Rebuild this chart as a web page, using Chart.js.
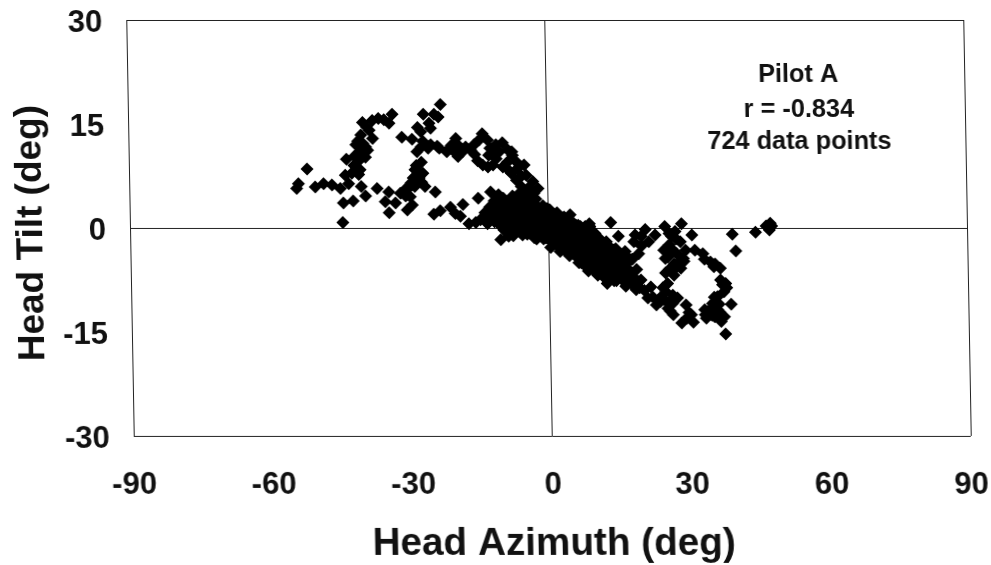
<!DOCTYPE html>
<html>
<head>
<meta charset="utf-8">
<style>
html,body{margin:0;padding:0;background:#fff;overflow:hidden;width:991px;height:565px}
#wrap{width:991px;height:565px;transform:skewX(1.03deg);transform-origin:0 228px}
canvas{display:block}
</style>
<script src="https://cdn.jsdelivr.net/npm/chart.js@4"></script>
</head>
<body>
<div id="wrap"><canvas id="c" width="991" height="565"></canvas></div>
<script>
const xTickValues = [-90,-60,-30,0,30,60,90];
const yTickValues = [-30,-15,0,15,30];
const xTitle = "Head Azimuth (deg)";
const yTitle = "Head Tilt (deg) ";
const noteLines = ["Pilot A","r = -0.834","724 data points"];

const upperArcX = [-23.2,-26.9,-24.6,-23.7,-25.7,-25.4,-28.2,-27.5,-31.6,-29.4,-27.1,-25.4,-23.6,-28.4,-27.5,-21.8,-20,-19.6,-20.7,-19.6,-17.9,-16.1,-14.3,-15,-13.2,-11.4,-8.9,-10.7,-7.9,-5.4,-6.8,-11.4,-13.2,-15.4,-14.3,-12.1,-10,-8.2,-7.1,-3.6,-2.5,-6.1,-6.5];
const upperArcY = [17.8,16.4,16.4,16,15.1,14.4,14.5,13.9,13.1,12.8,12.5,12,11.5,11,11.7,11.2,12.9,12,11.2,10.3,11.7,12,13.6,12.7,12.7,12,11.3,11,10.5,9.1,8.6,10,8.8,9.7,9.1,9.1,8.8,7.9,6.9,6.7,5.7,6,5];

const arcFillX = [-12,-9,-6,-8,-10,-13,-5,-7,-9,-4.5,-3.4,-12.7,-16,-24,-22,-26,-21,-18.6,-16.8];
const arcFillY = [11,9.5,7.5,11,12.3,10.5,7.6,9.5,8.5,5.8,5,11.5,10.6,11.8,11,11.5,11.9,11,11.2];

const leftLoopX = [-33.6,-35.4,-37.9,-40,-34.3,-38.6,-37.9,-40.4,-41.1,-39.4,-40.7,-39,-43.6,-41.1,-41.8,-40.7,-43.9,-42.5,-52.1,-54,-54.4,-50.4,-48.6,-46.8,-45,-43.2,-40.5,-37.1,-39.6,-42.3,-44.4,-44.6,-36.6,-39.2,-40,-41.8,-41.5,-40,-40.5,-39.5,-42,-41];
const leftLoopY = [16.4,15.6,15.5,15.2,15.1,14.1,12.9,13.4,12.5,11.7,11,11.2,9.9,9.8,9.1,8.4,7.6,7.9,8.5,6.4,5.7,5.9,6.4,6.2,5.7,6.4,6,5.7,4.6,3.9,3.6,0.8,15.8,14.6,12.2,10.4,12,11.8,10,10.2,9,7.7];

const midLoopX = [-34.6,-35.4,-34.6,-33.2,-32.1,-30.4,-30.7,-29.6,-30,-28.9,-27.5,-29.3,-28,-26.8,-24.6,-28.6,-27.2,-31,-25,-23.6,-21.4,-20.4,-19.3,-18.7,-17.5,-15.4,-12.7,-14.3,-10.7,-29,-28,-28.6,-29.8,-31,-27.5];
const midLoopY = [5.2,3.8,2.2,3.6,5,5.7,2.6,3.3,4.5,8.4,9.5,7.2,7.2,6,5.2,6.4,7.9,4.6,2,2.5,3,2.1,1.7,3.4,0.6,4.3,5.2,1.6,-1.7,6,8,9,6.5,5.6,6.6];

const denseCoreX = [-16,-15,-13,-12,-12,-11,-11,-11,-10,-10,-10,-10,-9,-9,-9,-9,-8,-8,-8,-8,-8,-7,-7,-7,-7,-6,-6,-6,-6,-5,-5,-5,-5,-4,-4,-4,-4,-3,-3,-3,-3,-2,-2,-2,-1,-1,-1,0,0,0,1,1,1,2,2,3,3,4,5,5,6,6,7,8,8,9,9,10,10,11,12,12,13,13,14,14,15,16];
const denseCoreY = [0.8,1.2,1.5,2.5,0.9,3.5,1.8,0.5,4.3,2.8,1.2,-0.3,3.6,2.2,0.8,-0.8,4.6,3,1.6,0.2,-1.1,3.8,2.4,1,-0.4,4.1,2.8,1.4,0,3.3,1.9,0.5,-0.9,3.9,2.7,1.2,-0.4,3.1,1.8,0.6,-1,2.6,1.1,-0.3,1.9,0.4,-1.4,1.3,-0.2,-1.5,0.6,-0.9,-2,0.2,-1.3,-0.9,-2.3,-1.4,-1.9,-3,-2.5,-3.6,-3.2,-2.9,-5,-3.8,-5.4,-3.3,-5,-5.8,-4.9,-6.6,-5.6,-7,-4.4,-6,-5.4,-6.7];

const coreFillX = [-14,-13,-13.5,-12.5,-12,-11,-9.5,-9.5,-9.5,-6.5,-6.5,-6.5,-6.5,-3.5,-3.5,-3.5,-3.5,-3.5,-2.5,-2.5,-2.5,-2.5,-1.5,-1.5,-1.5,-1.5,-0.5,-0.5,-0.5,-0.5,-0.5,0.5,0.5,0.5,0.5,0.5,1.5,1.5,1.5,1.5,1.5,2.5,2.5,2.5,2.5,2.5];
const coreFillY = [2.2,3,0.6,1.5,3.9,4.8,3.5,1.5,0.5,3.4,2,0.8,-0.6,3.6,2.4,1,-0.2,-1.4,2.9,1.5,0.2,-1.2,2.4,0.9,-0.8,-1.6,2.8,1.6,0.6,-0.6,-1.6,2,1,0,-1.2,-2.2,1.4,0.4,-0.5,-1.7,-2.6,1.2,0,-1,-2,-3];

const slopeFillX = [3.5,3.5,3.5,3.5,3.5,4.5,4.5,4.5,4.5,4.5,5.5,5.5,5.5,5.5,5.5,6.5,6.5,6.5,6.5,6.5,6.5,7.5,7.5,7.5,7.5,7.5,7.5,8.5,8.5,8.5,8.5,8.5,8.5,9.5,9.5,9.5,9.5,9.5,9.5,10.5,10.5,10.5,10.5,10.5,11.5,11.5,11.5,11.5,11.5,12.5,12.5,12.5,12.5,12.5,13.5,13.5,13.5,13.5,13.5,14.5,14.5,14.5,14.5,15.5,15.5,15.5,15.5,16.5,16.5,16.5];
const slopeFillY = [0.7,-0.4,-1.6,-2.7,-3.4,1,-0.2,-1.1,-2.3,-3.5,0.4,-1.2,-2.3,-3.4,-4.2,0.2,-1,-2,-3,-4.2,-5,-0.4,-1.8,-2.6,-3.8,-4.6,-5.6,0.2,-1.2,-2.2,-3.4,-4.4,-5.6,-1,-2,-2.8,-4.4,-5.6,-6.4,-1.6,-2.8,-4,-5.6,-6.6,-2.4,-3.4,-4.8,-6,-7.2,-2.6,-3.8,-5.2,-6,-7.4,-3.2,-4.6,-5.6,-6.6,-7.6,-4,-5,-6.4,-7.2,-4.4,-5.6,-6.6,-7.6,-5,-6,-7];

const bandUpperX = [-6,-4.5,-3,-1.5,0,1.5,3,4.5,6,7.5,9,10.5,12,14,16,17.5,2,4,6,8];
const bandUpperY = [5.2,4.8,4.2,3.2,2.6,2.2,1.6,1,0.4,0.2,-0.5,-1.5,-2,-3,-3.4,-4.5,1.2,0.2,-0.8,-1.4];
const bandLowerX = [-9,-6,-3,0,2,4,6,8,10,12,14,16,3,17.6,18.4];
const bandLowerY = [-1.2,-1,-1.6,-2.8,-3.4,-4,-5,-6.2,-6.8,-8,-7.6,-8.4,-3.2,-7,-6];

const bandX = [-4.3,4.3,-2.1,-4.3,-1.4,2.9,5.7,8.4,9.6,4.3,7.1,10.7,7.9,10,11.4,13.6,15,16.4,15,16.8,13,14.6,18.2,17.9,20.4,21.1,18.9];
const bandY = [2.6,1.9,0.7,-0.8,-1.2,-0.3,-0.8,0.6,-0.8,-2.7,-2.2,-2.2,-4.1,-6.5,-4.1,-3.2,-4.6,-4.1,-7.3,-6.1,0.8,-1.2,-1,-2,-0.2,-2,-3.7];

const rightLoopX = [24.6,28.2,26.8,30.4,27.9,24.3,27.1,24.6,24.6,27.9,26.4,32.7,34.3,36.4,35.3,39.1,44.1,39.8,46.4,47.6,47.1,47.3,26,29,25.5,28.6,26.5,36.4,37.7,37.1,38.6,35.7,34.6,32.9,35.7,37.1,36.4,33.2,37.3,35.8,34.4,36.2,25.5,27,26,25.2,26.5,25.4,28.5,27.5,31,33,35,22.5,19.5,19.5,35,36,34,33,35,37.5,36.8];
const rightLoopY = [0.2,0.6,-0.5,-1,-2,-3.2,-3.7,-4.4,-6.5,-5.8,-6.8,-3.7,-4.9,-5.8,-5.2,-0.9,-0.6,-3.3,0.3,0.3,-0.3,0.7,-1.2,-3.2,-2.4,-4.8,-5.2,-7.5,-8.6,-9.2,-11,-9.9,-10.9,-11.8,-11.8,-12.8,-13.5,-13,-15.3,-10.9,-12.6,-12.2,-0.8,-1.6,-3,-4.2,-6,-6,-4.4,-5,-3.2,-4.5,-5.6,-1,-1.2,-2.6,-12.8,-11,-11.8,-12.5,-10,-8,-8.2];

const lowerLoopX = [18.2,19.3,17.2,18.2,21.4,20.7,22.5,23.6,25,24.6,26.1,27.1,25,26.1,28.9,30,27.9,30.4,23.4,25.4,24,24.3,21.8,23,26,25.5,19,20,29,29.5];
const lowerLoopY = [-8.2,-7.5,-8,-8.9,-8.5,-10.1,-11.1,-9.9,-8,-9.2,-9.7,-10.1,-11.6,-12.5,-11.1,-12.5,-13.7,-13.6,-10.6,-10.6,-8.6,-10.4,-10,-10.4,-10.9,-12,-8.6,-9,-13,-12.2];

const azimuthZeroOffset = 0.4;
const allX = [].concat(upperArcX,arcFillX,leftLoopX,midLoopX,denseCoreX,coreFillX,slopeFillX,bandUpperX,bandLowerX,bandX,rightLoopX,lowerLoopX);
const allY = [].concat(upperArcY,arcFillY,leftLoopY,midLoopY,denseCoreY,coreFillY,slopeFillY,bandUpperY,bandLowerY,bandY,rightLoopY,lowerLoopY);
const points = allX.map((x,i)=>({x:x+azimuthZeroOffset,y:allY[i]}));

const noteText = {
  id:'noteText',
  afterDatasetsDraw(chart){
    const {ctx,scales:{x,y}} = chart;
    ctx.save();
    ctx.fillStyle='#111';
    ctx.font='bold 25.3px "Liberation Sans"';
    ctx.textAlign='center';
    ctx.textBaseline='middle';
    const cx = x.getPixelForValue(54.3);
    const rows = [22.1,17,12.4];
    noteLines.forEach((t,i)=>ctx.fillText(t,cx,y.getPixelForValue(rows[i])));
    ctx.restore();
  }
};

const edgeOrZero = (edge)=>c=>{const v=c.tick&&c.tick.value;return v===0||v===edge||v===-edge?'#222':'rgba(0,0,0,0)';};

new Chart(document.getElementById('c'),{
  type:'scatter',
  data:{datasets:[{data:points,pointStyle:'rectRot',pointRadius:6.5,pointHoverRadius:6.5,borderWidth:0,backgroundColor:'#000',borderColor:'#000'}]},
  plugins:[noteText],
  options:{
    responsive:false,animation:false,
    layout:{autoPadding:false,padding:{top:20,right:24,left:0,bottom:0}},
    plugins:{legend:{display:false},tooltip:{enabled:false}},
    scales:{
      x:{type:'linear',min:-90,max:90,
        afterBuildTicks(s){s.ticks=xTickValues.map(v=>({value:v}));},
        afterFit(s){s.height=129;s.paddingLeft=0;s.paddingRight=0;},
        grid:{drawTicks:false,color:edgeOrZero(90),lineWidth:1},
        border:{display:false},
        ticks:{color:'#111',font:{family:'"Liberation Sans"',weight:'bold',size:31},padding:31,maxRotation:0,autoSkip:false},
        title:{display:true,text:xTitle,color:'#111',font:{family:'"Liberation Sans"',weight:'bold',size:38.7},padding:{top:15,bottom:-3}}
      },
      y:{type:'linear',min:-30,max:30,
        afterBuildTicks(s){s.ticks=yTickValues.map(v=>({value:v}));},
        afterFit(s){s.width=130;s.paddingTop=0;s.paddingBottom=0;},
        grid:{drawTicks:false,color:edgeOrZero(30),lineWidth:1},
        border:{display:false},
        ticks:{color:'#111',font:{family:'"Liberation Sans"',weight:'bold',size:31,lineHeight:'6px'},padding:24,autoSkip:false,callback:v=>['',String(v)]},
        title:{display:true,text:yTitle,color:'#111',font:{family:'"Liberation Sans"',weight:'bold',size:37},padding:{top:10,bottom:0}}
      }
    }
  }
});
</script>
</body>
</html>
